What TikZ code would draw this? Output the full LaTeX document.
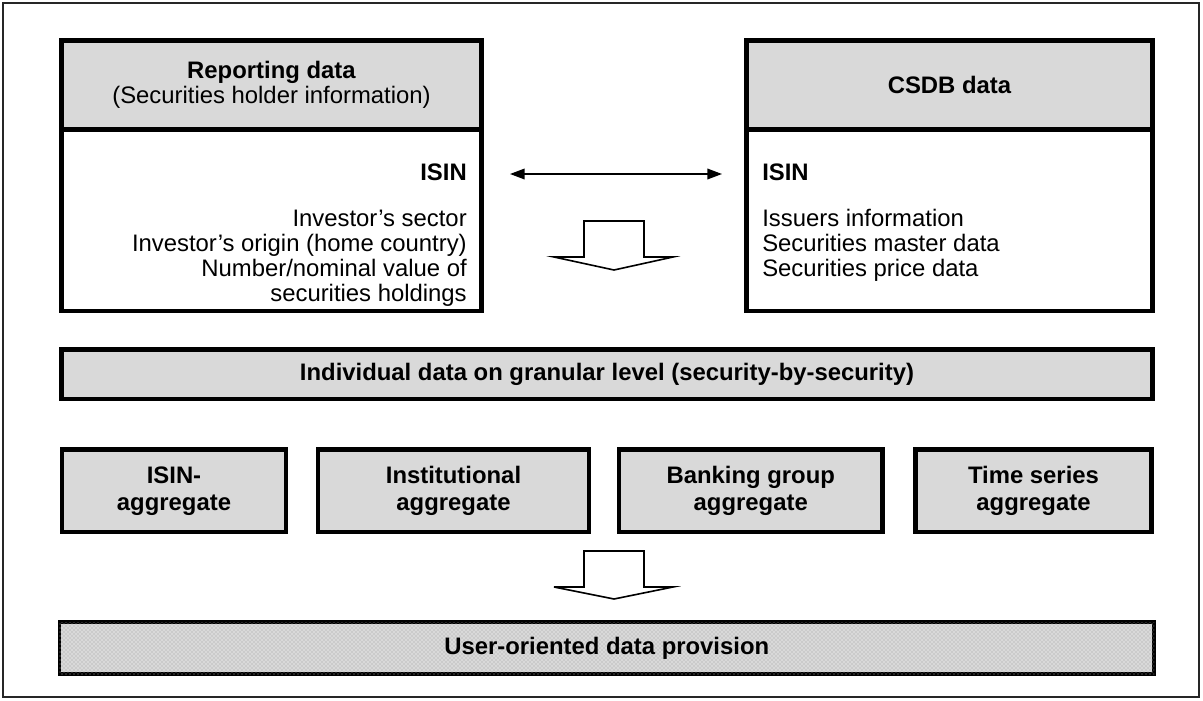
\documentclass[tikz,border=0pt]{standalone}
\usepackage{fontspec}
\setmainfont{Liberation Sans}
\usetikzlibrary{fit,patterns,arrows.meta}
\definecolor{hdrgray}{RGB}{217,217,217}
\definecolor{dotgray}{RGB}{160,160,160}
\begin{document}
\begin{tikzpicture}[x=0.75pt,y=-0.75pt,
  txt/.style={font=\fontsize{17.9pt}{18.75pt}\selectfont, inner sep=0pt},
  hdrbox/.style={draw, line width=3.2pt, fill=hdrgray, inner sep=0pt},
  bodybox/.style={draw, line width=3.2pt, inner sep=0pt},
  userbox/.style={draw, line width=2.4pt, fill=hdrgray, inner sep=0pt,
     postaction={pattern=crosshatch dots, pattern color=dotgray}},
  boxtext/.style={align=center, inner sep=0pt, font=\fontsize{17.9pt}{19pt}\selectfont},
  aggtext/.style={align=center, inner sep=0pt, font=\fontsize{17.9pt}{20.2pt}\selectfont\bfseries},
  blockarrow/.style={draw, line width=1.2pt, fill=white, line join=miter},
  dblarrow/.style={line width=1.1pt, {Triangle[length=11pt,width=8pt]}-{Triangle[length=11pt,width=8pt]}},
  frame/.style={draw=black!85, line width=1.3pt}
]
\useasboundingbox (0,0) rectangle (1203,700);
\draw[frame] (3,3) rectangle (1199,697);

% top left
\node[hdrbox, fit={(61.5,40.5) (481.5,129.5)}] (lhead) {};
\node[boxtext] (lheadt) at (lhead.center)
  {\textbf{Reporting data}\\(Securities holder information)};
\node[bodybox, fit={(61.5,129.5) (481.5,311)}] (lbody) {};
\node[txt, anchor=base east] (lisin) at (467,180) {\bfseries ISIN};
\node[txt, anchor=base east, align=right] (linfo) at (467,301)
  {Investor’s sector\\Investor’s origin (home country)\\Number/nominal value of\\securities holdings};

% top right
\node[hdrbox, fit={(746.5,40.5) (1152.5,129.5)}] (rhead) {};
\node[boxtext, font=\fontsize{17.9pt}{19pt}\selectfont\bfseries] (rheadt) at (rhead.center) {CSDB data};
\node[bodybox, fit={(746.5,129.5) (1152.5,311)}] (rbody) {};
\node[txt, anchor=base west] (risin) at (762,180) {\bfseries ISIN};
\node[txt, anchor=base west, align=left] (rinfo) at (762,276)
  {Issuers information\\Securities master data\\Securities price data};

% double arrow
\coordinate (aL) at (510,174);
\coordinate (aR) at (722,174);
\draw[dblarrow] (aL) -- (aR);

% block arrow 1
\draw[blockarrow] (584,221) -- (644,221) -- (644,257) -- (673,257) -- (614,270)
  -- (554,257) -- (584,257) -- cycle;

% individual data bar
\node[hdrbox, fit={(61.5,349.5) (1152.5,399)}] (indiv) {};
\node[boxtext, font=\fontsize{17.9pt}{19pt}\selectfont\bfseries] (indivt) at (indiv.center)
  {Individual data on granular level (security-by-security)};

% aggregates
\node[hdrbox, fit={(62,449.5) (286,532)}] (agg1) {};
\node[aggtext] (agg1t) at (agg1.center) {ISIN-\\aggregate};
\node[hdrbox, fit={(318,449.5) (589,532)}] (agg2) {};
\node[aggtext] (agg2t) at (agg2.center) {Institutional\\aggregate};
\node[hdrbox, fit={(619,449.5) (882.5,532)}] (agg3) {};
\node[aggtext] (agg3t) at (agg3.center) {Banking group\\aggregate};
\node[hdrbox, fit={(915.5,449.5) (1151.5,532)}] (agg4) {};
\node[aggtext] (agg4t) at (agg4.center) {Time series\\aggregate};

% block arrow 2
\draw[blockarrow] (584,551) -- (644,551) -- (644,587) -- (673,587) -- (614,599)
  -- (554,587) -- (584,587) -- cycle;

% user bar
\node[userbox, fit={(59.5,622) (1154,674)}] (user) {};
\node[boxtext, font=\fontsize{17.9pt}{19pt}\selectfont\bfseries] (usert) at (user.center)
  {User-oriented data provision};
\end{tikzpicture}
\end{document}
